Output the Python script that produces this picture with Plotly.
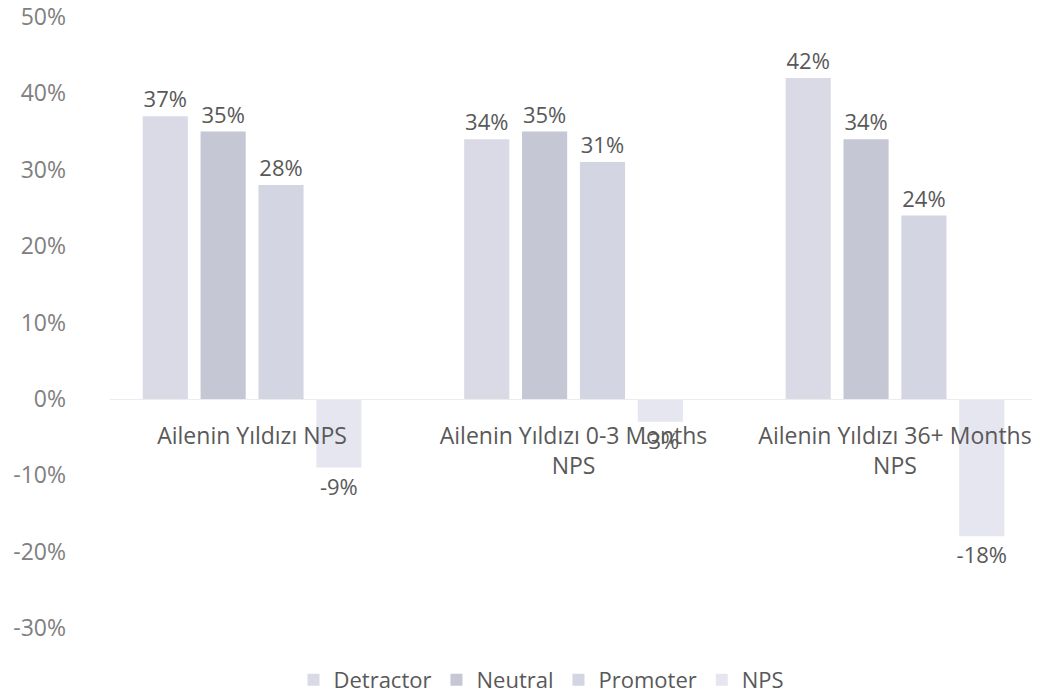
import plotly.graph_objects as go

categories = ["Ailenin Yıldızı NPS", "Ailenin Yıldızı 0-3 Months<br>NPS", "Ailenin Yıldızı 36+ Months<br>NPS"]
detractor = [37, 34, 42]
neutral = [35, 35, 34]
promoter = [28, 31, 24]
nps = [-9, -3, -18]

y_ticks = [-30, -20, -10, 0, 10, 20, 30, 40, 50]
y_tick_labels = ["-30%", "-20%", "-10%", "0%", "10%", "20%", "30%", "40%", "50%"]

series = [
    ("Detractor", detractor, "#d9dae6"),
    ("Neutral", neutral, "#c6c7d5"),
    ("Promoter", promoter, "#d4d5e3"),
    ("NPS", nps, "#e6e6f1"),
]

font_family = "Open Sans, Noto Sans, sans-serif"

fig = go.Figure()
for name, vals, color in series:
    fig.add_trace(go.Bar(
        x=categories, y=vals, name=name,
        marker=dict(color=color, line=dict(width=0)),
        text=[f"{v}%" for v in vals], textposition="outside",
        textfont=dict(color="#595959", size=22, family=font_family),
        constraintext="none", cliponaxis=False,
    ))

# page body adds ~8px offset, so margins are shifted up/left
fig.update_layout(
    width=1040, height=695,
    margin=dict(l=102, r=0, t=9, b=75, autoexpand=False),
    paper_bgcolor="white", plot_bgcolor="white",
    barmode="group", bargap=0.28, bargroupgap=0.22,
    font=dict(family=font_family, color="#7f7f7f", size=20),
    showlegend=True,
    legend=dict(orientation="h", x=0.46, xanchor="center", y=-0.085, yanchor="middle",
                font=dict(size=22, color="#595959"), itemwidth=30, traceorder="normal"),
)

fig.update_yaxes(
    range=[-30, 50], tickvals=y_ticks, ticktext=y_tick_labels, showgrid=False,
    zeroline=False, showline=False, ticks="", automargin=False,
    tickfont=dict(size=23, color="#808080"), ticklabelstandoff=43,
    ticklabeloverflow="allow",
)
fig.update_xaxes(
    range=[-0.442, 2.476], anchor="free", position=0.375, automargin=False,
    showline=True, linecolor="#ececec", linewidth=1, ticks="", showgrid=False,
    tickfont=dict(size=23, color="#595959"), ticklabelstandoff=17,
)

fig.write_html("out.html")
